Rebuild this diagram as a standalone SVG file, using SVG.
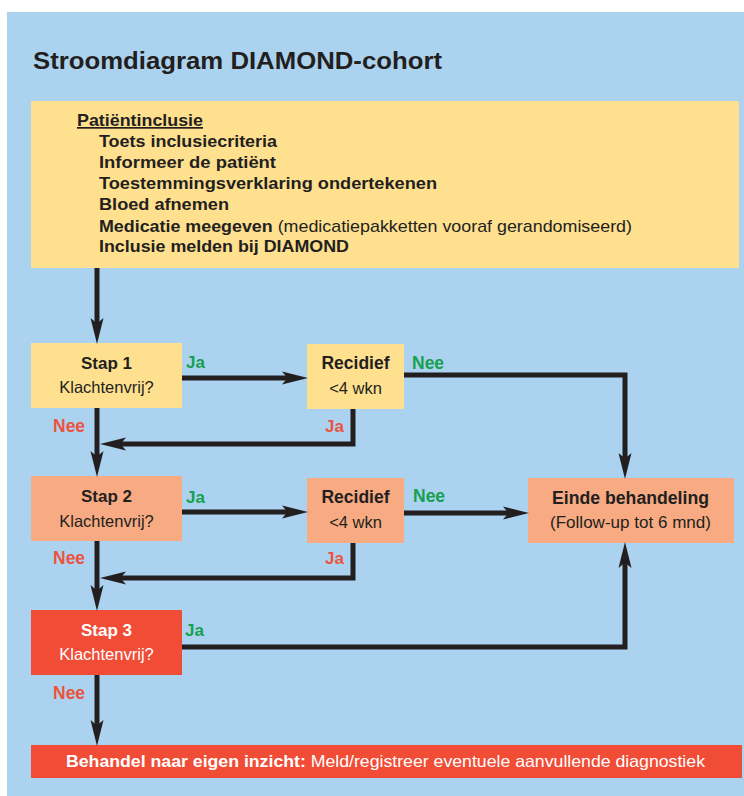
<svg xmlns="http://www.w3.org/2000/svg" width="744" height="796" viewBox="0 0 744 796">
<style>
.t{font-family:"Liberation Sans",Arial,sans-serif;fill:#231F20}
.b{font-weight:bold}
.c{text-anchor:middle}
.g{fill:#17A04F;font-weight:bold}
.r{fill:#EB5440;font-weight:bold}
.w{fill:#ffffff}
.ln{fill:none;stroke:#231F20;stroke-width:5;stroke-linejoin:miter}
</style>
<defs>
<marker id="ah" markerUnits="userSpaceOnUse" markerWidth="26" markerHeight="14" viewBox="0 0 24 12" refX="12" refY="6" orient="auto">
<path d="M0,0 L24,6 L0,12 L5,6 Z" fill="#231F20"/>
</marker>
</defs>
<rect x="7" y="12" width="737" height="784" fill="#ABD3EF"/>
<text class="t b" x="33" y="69" font-size="24" textLength="409" lengthAdjust="spacingAndGlyphs">Stroomdiagram DIAMOND-cohort</text>

<g id="inclusie">
<rect x="31" y="101" width="708" height="167" fill="#FEE08F"/>
<text class="t b" x="77" y="126" font-size="17" text-decoration="underline" textLength="126" lengthAdjust="spacingAndGlyphs">Patiëntinclusie</text>
<text class="t b" x="99" y="147" font-size="17" textLength="178" lengthAdjust="spacingAndGlyphs">Toets inclusiecriteria</text>
<text class="t b" x="99" y="168" font-size="17" textLength="177" lengthAdjust="spacingAndGlyphs">Informeer de patiënt</text>
<text class="t b" x="99" y="189" font-size="17" textLength="338" lengthAdjust="spacingAndGlyphs">Toestemmingsverklaring ondertekenen</text>
<text class="t b" x="99" y="210" font-size="17" textLength="130" lengthAdjust="spacingAndGlyphs">Bloed afnemen</text>
<text class="t" x="99" y="232" font-size="17" textLength="533" lengthAdjust="spacingAndGlyphs"><tspan class="b">Medicatie meegeven</tspan> (medicatiepakketten vooraf gerandomiseerd)</text>
<text class="t b" x="99" y="252" font-size="17" textLength="250" lengthAdjust="spacingAndGlyphs">Inclusie melden bij DIAMOND</text>
</g>

<g id="stap1">
<rect x="31" y="343" width="151" height="65" fill="#FEE08F"/>
<text class="t b c" x="106.5" y="369" font-size="17">Stap 1</text>
<text class="t c" x="106.5" y="393" font-size="16.5">Klachtenvrij?</text>
</g>
<g id="recidief1">
<rect x="307" y="344" width="97" height="65" fill="#FEE08F"/>
<text class="t b c" x="355.5" y="369" font-size="17.5">Recidief</text>
<text class="t c" x="355.5" y="394" font-size="16.5">&lt;4 wkn</text>
</g>
<g id="stap2">
<rect x="31" y="476" width="151" height="65" fill="#F8AB82"/>
<text class="t b c" x="106.5" y="502" font-size="17">Stap 2</text>
<text class="t c" x="106.5" y="527" font-size="16.5">Klachtenvrij?</text>
</g>
<g id="recidief2">
<rect x="307" y="478" width="97" height="65" fill="#F8AB82"/>
<text class="t b c" x="355.5" y="503" font-size="17.5">Recidief</text>
<text class="t c" x="355.5" y="528" font-size="16.5">&lt;4 wkn</text>
</g>
<g id="einde">
<rect x="528" y="478" width="206" height="65" fill="#F8AB82"/>
<text class="t b c" x="630.5" y="504" font-size="17.5" textLength="157" lengthAdjust="spacingAndGlyphs">Einde behandeling</text>
<text class="t c" x="630.5" y="528" font-size="17" textLength="161" lengthAdjust="spacingAndGlyphs">(Follow-up tot 6 mnd)</text>
</g>
<g id="stap3">
<rect x="31" y="610" width="151" height="65" fill="#F04C36"/>
<text class="t b c w" x="106.5" y="636" font-size="17">Stap 3</text>
<text class="t c w" x="106.5" y="660" font-size="16.5">Klachtenvrij?</text>
</g>
<g id="behandel">
<rect x="31" y="745" width="711" height="33" fill="#F04C36"/>
<text class="t w" x="66" y="767" font-size="16.5" textLength="639" lengthAdjust="spacingAndGlyphs"><tspan class="b">Behandel naar eigen inzicht:</tspan> Meld/registreer eventuele aanvullende diagnostiek</text>
</g>

<g id="connectors">
<path class="ln" d="M97,268 V331" marker-end="url(#ah)"/>
<path class="ln" d="M182,378 H295" marker-end="url(#ah)"/>
<path class="ln" d="M404,375 H625 V466" marker-end="url(#ah)"/>
<path class="ln" d="M353,409 V444 H113" marker-end="url(#ah)"/>
<path class="ln" d="M97,408 V464" marker-end="url(#ah)"/>
<path class="ln" d="M182,512 H295" marker-end="url(#ah)"/>
<path class="ln" d="M404,513 H516" marker-end="url(#ah)"/>
<path class="ln" d="M353,543 V578 H113" marker-end="url(#ah)"/>
<path class="ln" d="M97,541 V598" marker-end="url(#ah)"/>
<path class="ln" d="M182,647 H625 V555" marker-end="url(#ah)"/>
<path class="ln" d="M97,675 V733" marker-end="url(#ah)"/>
</g>
<g id="labels">
<text class="t g" x="186" y="368" font-size="17">Ja</text>
<text class="t g" x="412" y="369" font-size="17.5">Nee</text>
<text class="t r" x="325" y="432" font-size="17">Ja</text>
<text class="t r" x="53" y="432" font-size="17.5">Nee</text>
<text class="t g" x="186" y="503" font-size="17">Ja</text>
<text class="t g" x="413" y="502" font-size="17.5">Nee</text>
<text class="t r" x="325" y="564" font-size="17">Ja</text>
<text class="t r" x="53" y="564" font-size="17.5">Nee</text>
<text class="t g" x="185" y="636" font-size="17">Ja</text>
<text class="t r" x="53" y="699" font-size="17.5">Nee</text>
</g>
</svg>
